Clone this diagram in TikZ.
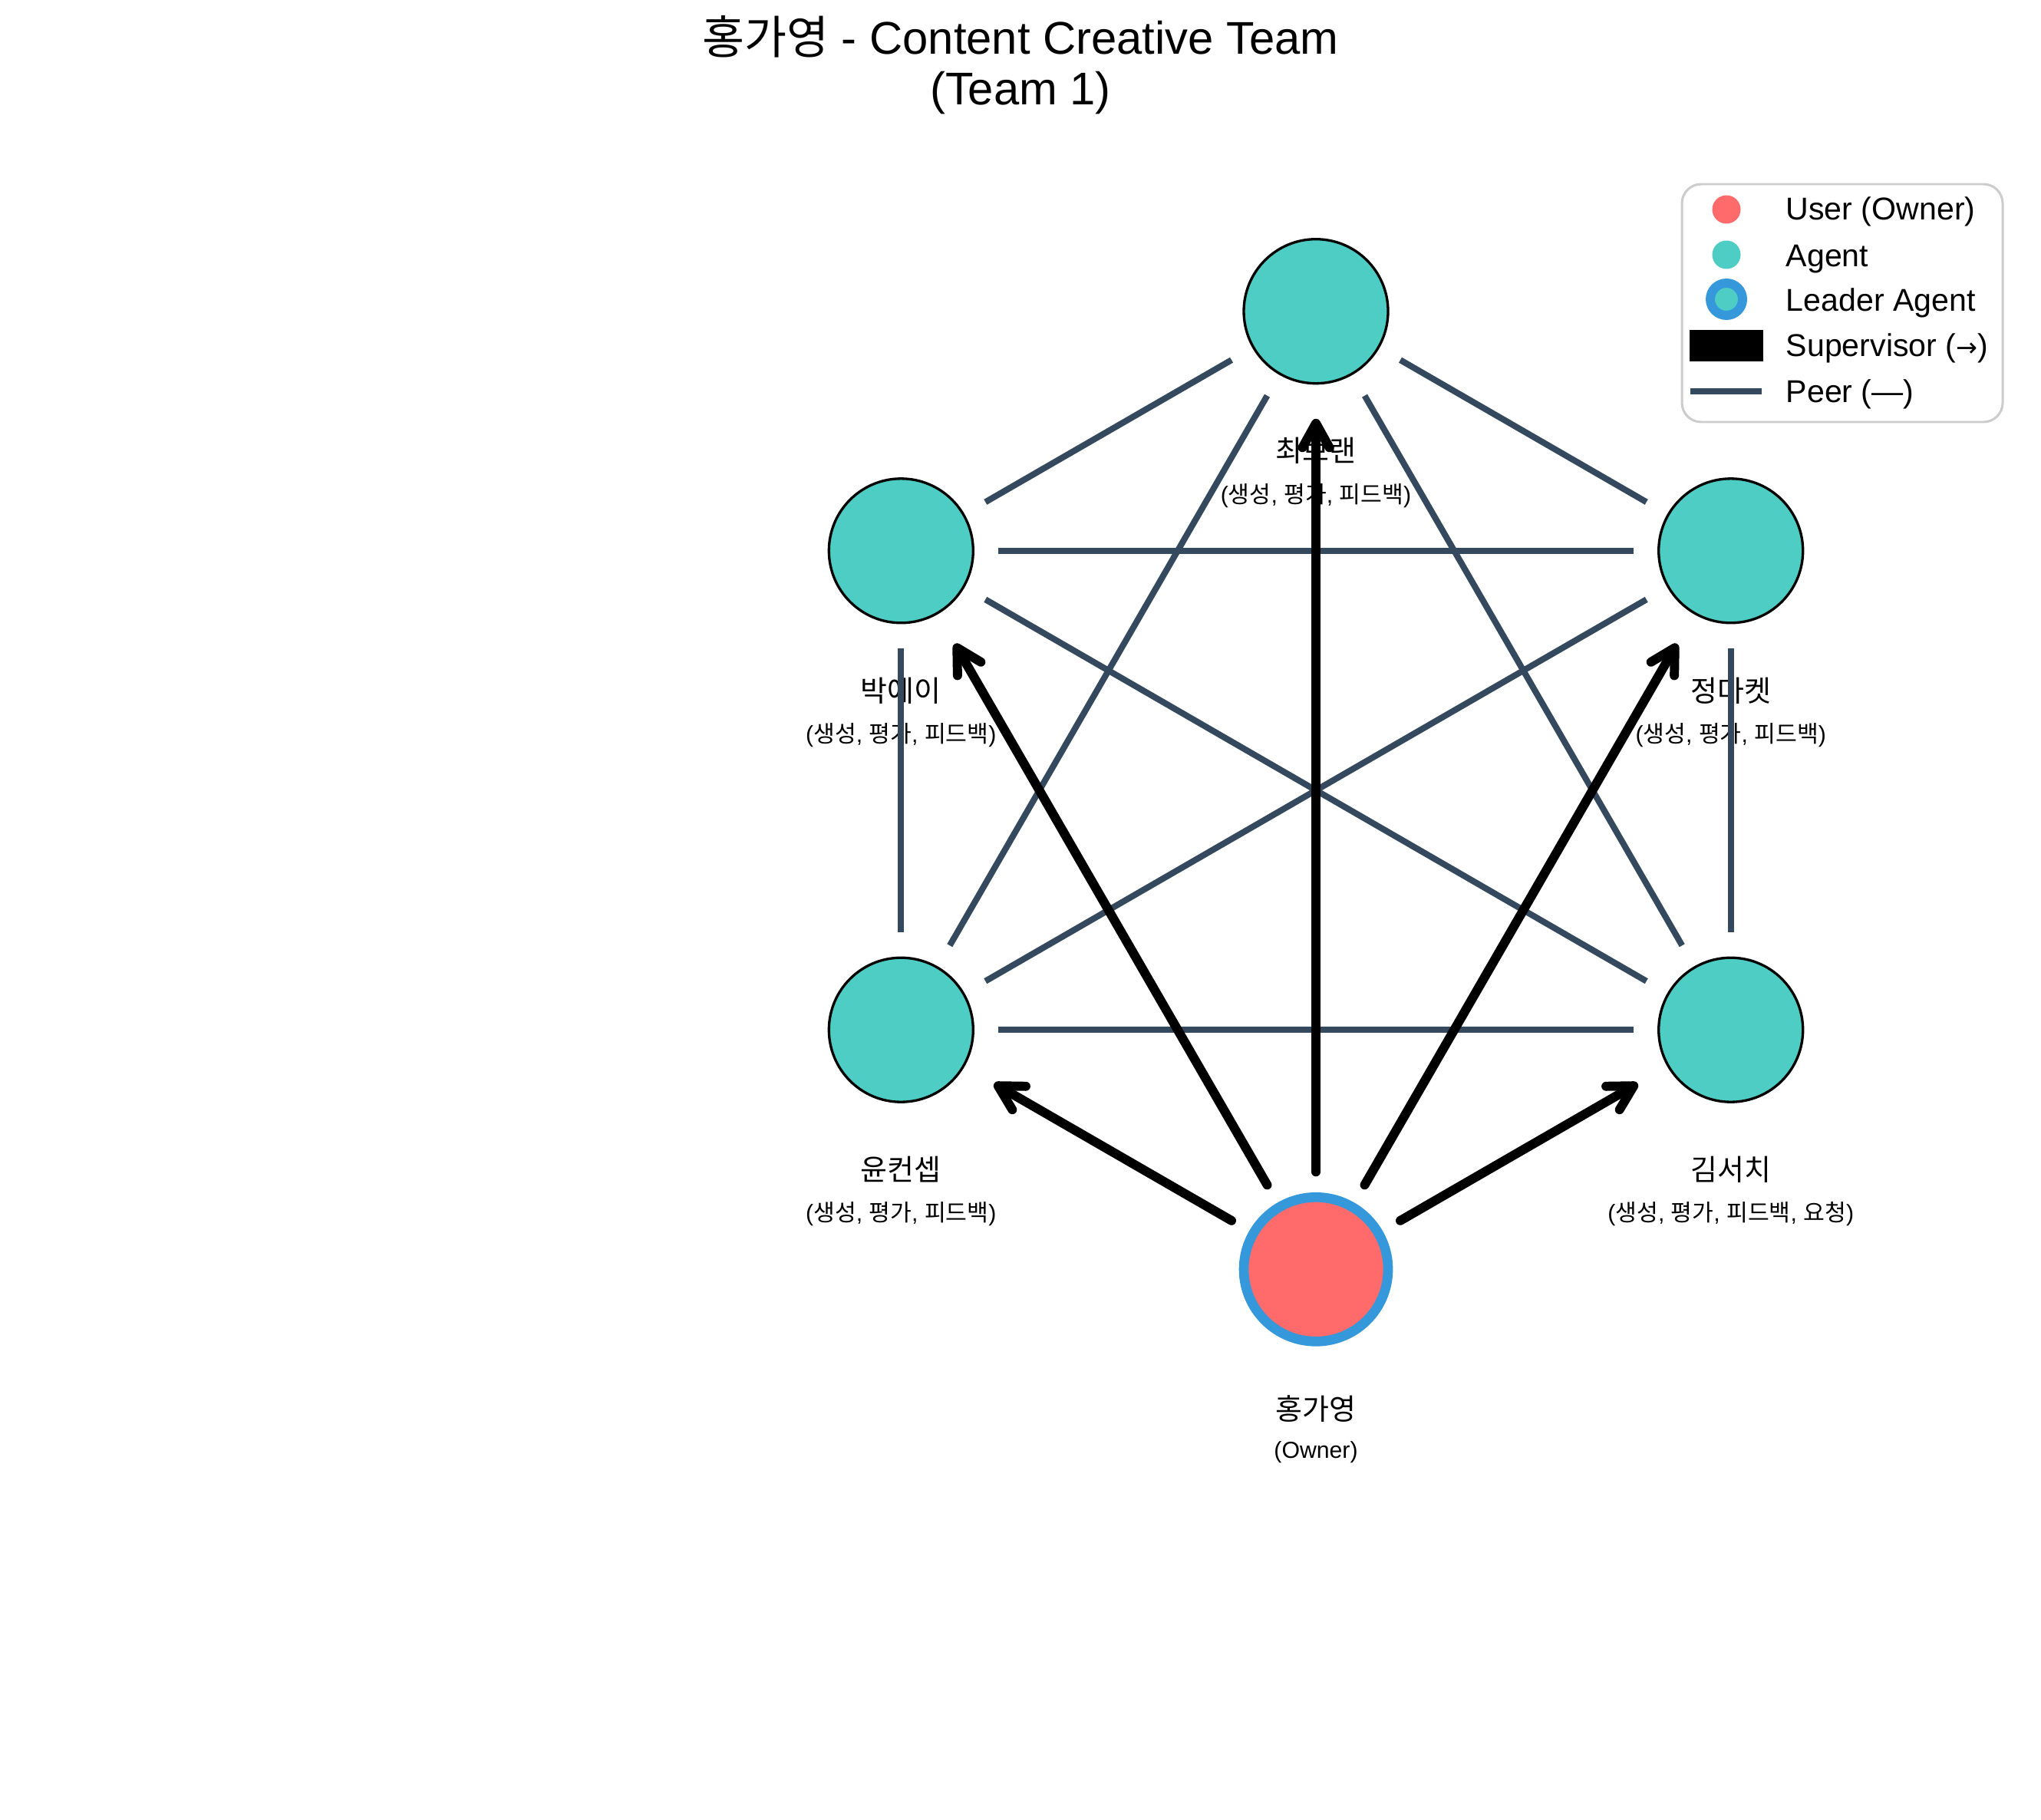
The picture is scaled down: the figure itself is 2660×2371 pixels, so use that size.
\documentclass[tikz,border=0pt]{standalone}
\usepackage{fontspec}
\setmainfont{Liberation Sans}
\newfontfamily\kr{Noto Sans CJK KR}
\newfontfamily\dvs{DejaVu Sans}
\usetikzlibrary{arrows.meta}
\definecolor{agentc}{HTML}{4ECDC4}
\definecolor{userc}{HTML}{FF6B6B}
\definecolor{leadc}{HTML}{3498DB}
\definecolor{peerc}{HTML}{34495E}
\definecolor{legc}{HTML}{CCCCCC}
\newcommand\kor[1]{{\kr #1}}
\begin{document}
\begin{tikzpicture}[x=0.1mm,y=-0.1mm,
  agent/.style={circle, minimum size=18.8mm, inner sep=0pt, outer sep=3.3mm, fill=agentc, draw=black, line width=0.94pt},
  owner/.style={circle, minimum size=18.8mm, inner sep=0pt, outer sep=3.3mm, fill=userc, draw=leadc, line width=3.6pt},
  peer/.style={draw=peerc, line width=2.28pt},
  sup/.style={draw=black, line width=3.4pt, line cap=round, -{Straight Barb[length=9pt,width=10pt,round]}, shorten >=1.3mm},
  namelbl/.style={font=\kr\fontsize{10.8}{13}\selectfont, inner sep=0pt},
  sublbl/.style={font=\fontsize{8.6}{10}\selectfont, inner sep=0pt},
  legtxt/.style={font=\fontsize{11.7}{14}\selectfont, anchor=base west, inner sep=0pt},
  titlef/.style={font=\fontsize{17}{20}\selectfont, anchor=base, inner sep=0pt}
]
\useasboundingbox[fill=white] (0,0) rectangle (2660,2371);

% title
\node[titlef] (title) at (1330,71) {\kor{홍가영} - Content Creative Team};
\node[titlef] (title2) at (1330,137) {(Team 1)};

% labels (under the connectors)
\node[namelbl] (lt) at (1715,587.7) {최브랜};
\node[sublbl] (st) at (1715,645.7) {(\kor{생성}, \kor{평가}, \kor{피드백})};
\node[namelbl] (lp) at (1174.3,899.8) {박에이};
\node[sublbl] (sp) at (1174.3,957.8) {(\kor{생성}, \kor{평가}, \kor{피드백})};
\node[namelbl] (lj) at (2255.7,899.8) {정마켓};
\node[sublbl] (sj) at (2255.7,957.8) {(\kor{생성}, \kor{평가}, \kor{피드백})};
\node[namelbl] (ly) at (1174.3,1524.2) {윤컨셉};
\node[sublbl] (sy) at (1174.3,1582.2) {(\kor{생성}, \kor{평가}, \kor{피드백})};
\node[namelbl] (lk) at (2255.7,1524.2) {김서치};
\node[sublbl] (sk) at (2255.7,1582.2) {(\kor{생성}, \kor{평가}, \kor{피드백}, \kor{요청})};
\node[namelbl] (lo) at (1715,1836.3) {홍가영};
\node[sublbl] (so) at (1715,1892.3) {(Owner)};

% nodes
\node[agent] (t) at (1715,405.7) {};
\node[agent] (p) at (1174.3,717.8) {};
\node[agent] (j) at (2255.7,717.8) {};
\node[agent] (y) at (1174.3,1342.2) {};
\node[agent] (k) at (2255.7,1342.2) {};
\node[owner] (o) at (1715,1654.3) {};

% peer connectors
\draw[peer] (t) -- (p);
\draw[peer] (t) -- (j);
\draw[peer] (t) -- (y);
\draw[peer] (t) -- (k);
\draw[peer] (p) -- (j);
\draw[peer] (p) -- (y);
\draw[peer] (p) -- (k);
\draw[peer] (j) -- (y);
\draw[peer] (j) -- (k);
\draw[peer] (y) -- (k);

% supervisor arrows
\draw[sup] (o) -- (t);
\draw[sup] (o) -- (p);
\draw[sup] (o) -- (j);
\draw[sup] (o) -- (y);
\draw[sup] (o) -- (k);

% legend
\draw[draw=legc, line width=0.85pt, fill=white, rounded corners=2.5mm] (2192,240) rectangle (2610,550);
\fill[userc] (2250,273) circle[radius=1.85mm];
\fill[agentc] (2250,332) circle[radius=1.85mm];
\draw[leadc, fill=agentc, line width=3.4pt] (2250,390) circle[radius=2.1mm];
\fill[black] (2202,430) rectangle (2298,471);
\draw[peerc, line width=2.28pt] (2203,510) -- (2296,510);
\node[legtxt] (l1) at (2327,287) {User (Owner)};
\node[legtxt] (l2) at (2327,347) {Agent};
\node[legtxt] (l3) at (2327,405) {Leader Agent};
\node[legtxt] (l4) at (2327,464) {Supervisor ({\dvs\fontsize{9.5}{11}\selectfont →})};
\node[legtxt] (l5) at (2327,524) {Peer (—)};
\end{tikzpicture}
\end{document}
